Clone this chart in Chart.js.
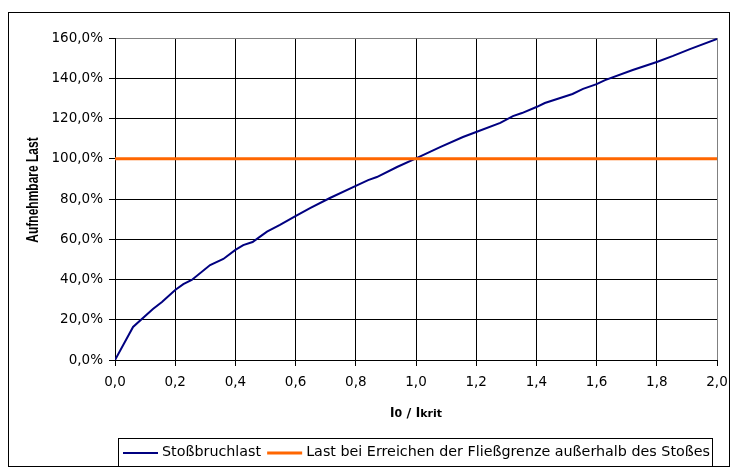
<!DOCTYPE html>
<html>
<head>
<meta charset="utf-8">
<script src="https://cdn.jsdelivr.net/npm/chart.js@4.4.1/dist/chart.umd.min.js"></script>
<style>
  html, body { margin: 0; padding: 0; background: #fff; }
  canvas { display: block; }
</style>
</head>
<body>
<canvas id="loadChart" width="731" height="467"></canvas>
<script>
// l0 / lkrit on the x axis, load in percent
const ratioValues = [0, 0.06, 0.126, 0.156, 0.2, 0.227, 0.255, 0.316, 0.36, 0.4,
  0.426, 0.457, 0.482, 0.505, 0.548, 0.601, 0.648, 0.714, 0.8, 0.841,
  0.87, 0.937, 1.0, 1.08, 1.156, 1.2, 1.28, 1.322, 1.352, 1.4,
  1.428, 1.52, 1.555, 1.6, 1.628, 1.72, 1.8, 1.854, 1.91, 2.0];
const breakLoad = [0, 16.4, 25.3, 28.8, 34.8, 37.7, 39.8, 47.2, 50.2, 54.7,
  57.1, 58.6, 61.3, 63.8, 67.1, 71.6, 75.5, 80.5, 86.5, 89.4,
  90.9, 95.9, 100.2, 105.8, 110.8, 113.3, 117.8, 121.2, 122.7, 125.7,
  127.7, 132.2, 134.7, 137.1, 139.1, 144.1, 148.1, 151.1, 154.5, 159.5];

const yieldRatio = [0, 2];
const yieldLoad = [100, 100];

const seriesLabels = ["Stoßbruchlast", "Last bei Erreichen der Fließgrenze außerhalb des Stoßes"];
const yTitle = "Aufnehmbare Last";

const tickFont = { family: "DejaVu Sans", size: 13.5 };
const fmt = v => v.toFixed(1).replace(".", ",");

/* -------------------------------------------------------
   frame, axis titles and boxed legend (Excel look)
------------------------------------------------------- */
const decorations = {
  id: "decorations",
  afterDraw(chart) {
    const c = chart.ctx;
    c.save();
    c.strokeStyle = "#000";
    c.lineWidth = 1;
    c.strokeRect(8.5, 12.5, 721, 454);

    // y title (stretched sideways like the original export)
    c.fillStyle = "#000";
    c.font = "bold 12px 'Liberation Sans'";
    c.textAlign = "center";
    c.textBaseline = "middle";
    c.translate(34, 190);
    c.scale(1.3, 1);
    c.rotate(-Math.PI / 2);
    c.fillText(yTitle, 0, 0);
    c.setTransform(1, 0, 0, 1, 0, 0);

    // x title: l0 / lkrit with small subscripts
    const parts = [["l", 13], ["0", 11], [" / l", 13], ["krit", 11]];
    let total = 0;
    parts.forEach(p => {
      c.font = "bold " + p[1] + "px 'DejaVu Sans'";
      total += c.measureText(p[0]).width;
    });
    let x = 416 - total / 2;
    c.textAlign = "left";
    c.textBaseline = "alphabetic";
    parts.forEach(p => {
      c.font = "bold " + p[1] + "px 'DejaVu Sans'";
      c.fillText(p[0], x, 417);
      x += c.measureText(p[0]).width;
    });

    // legend
    c.strokeRect(118.5, 438.5, 594, 28);
    c.font = "14.3px 'DejaVu Sans'";
    c.textBaseline = "middle";
    let lx = 123;
    chart.data.datasets.forEach(ds => {
      c.strokeStyle = ds.borderColor;
      c.lineWidth = ds.borderWidth;
      c.beginPath();
      c.moveTo(lx, 453);
      c.lineTo(lx + 35, 453);
      c.stroke();
      lx += 39;
      c.fillText(ds.label, lx, 452);
      lx += c.measureText(ds.label).width + 6;
    });
    c.restore();
  }
};

const points = (xs, ys) => xs.map((x, i) => ({ x: x, y: ys[i] }));

new Chart(document.getElementById("loadChart"), {
  type: "line",
  data: {
    datasets: [
      {
        label: seriesLabels[0],
        data: points(ratioValues, breakLoad),
        borderColor: "#000080",
        borderWidth: 2,
        pointRadius: 0,
        tension: 0,
        order: 1
      },
      {
        label: seriesLabels[1],
        data: points(yieldRatio, yieldLoad),
        borderColor: "#FF6600",
        borderWidth: 3,
        pointRadius: 0,
        tension: 0,
        order: 0
      }
    ]
  },
  options: {
    responsive: false,
    animation: false,
    layout: { padding: { top: 38, right: 14, left: 0, bottom: 0 } },
    plugins: {
      legend: { display: false },
      tooltip: { enabled: false }
    },
    scales: {
      x: {
        type: "linear",
        min: 0,
        max: 2,
        afterFit: s => {
          s.height = 107;
          s.paddingLeft = 0;
          s.paddingRight = 0;
        },
        ticks: {
          stepSize: 0.2,
          color: "#000",
          font: tickFont,
          padding: 8,
          maxRotation: 0,
          callback: v => fmt(v)
        },
        grid: {
          color: c => (c.tick && c.tick.value >= 2 ? "#808080" : "#000"),
          tickColor: "#000",
          tickLength: 6
        },
        border: { color: "#000" }
      },
      y: {
        min: 0,
        max: 160,
        afterFit: s => { s.width = 115; },
        ticks: {
          stepSize: 20,
          color: "#000",
          font: tickFont,
          padding: 6,
          callback: v => fmt(v) + "%"
        },
        grid: {
          color: c => (c.tick && c.tick.value >= 160 ? "#808080" : "#000"),
          tickColor: "#000",
          tickLength: 6
        },
        border: { color: "#000" }
      }
    }
  },
  plugins: [decorations]
});
</script>
</body>
</html>
